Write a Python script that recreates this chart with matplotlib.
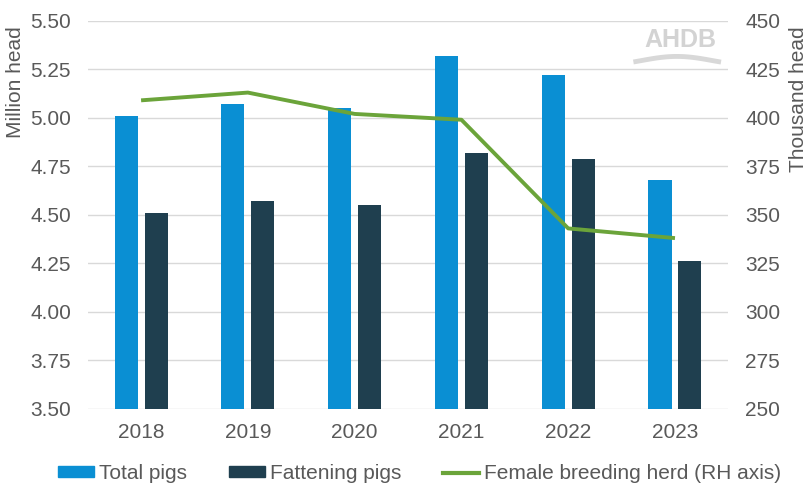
import numpy as np
import matplotlib
matplotlib.use('Agg')
import matplotlib.pyplot as plt
from matplotlib.lines import Line2D
from matplotlib.patches import Patch

plt.rcParams['font.family'] = ['Liberation Sans', 'DejaVu Sans']

########################### data
years = ['2018', '2019', '2020', '2021', '2022', '2023']
total_pigs = [5.01, 5.07, 5.05, 5.32, 5.22, 4.68]        # million head
fattening_pigs = [4.51, 4.57, 4.55, 4.82, 4.79, 4.26]    # million head
breeding_herd = [409, 413, 402, 399, 343, 338]           # thousand head (RH axis)

c_total = '#0A8FD3'
c_fat = '#1F3F4F'
c_green = '#6BA43A'
c_text = '#595959'
c_grid = '#D9D9D9'
FS = 15

########################### figure
fig = plt.figure(figsize=(8.12, 4.95), dpi=100)
ax = fig.add_axes([0.108, 0.174, 0.789, 0.784])
ax2 = ax.twinx()

x = np.arange(len(years))
w = 0.216
ax.bar(x - 0.14, total_pigs, w, color=c_total, zorder=3)
ax.bar(x + 0.14, fattening_pigs, w, color=c_fat, zorder=3)
ax2.plot(x, breeding_herd, color=c_green, lw=2.8, zorder=4, solid_capstyle='butt')

ax.set_xlim(-0.5, len(years) - 0.5)
ax.set_ylim(3.5, 5.5)
yt = np.arange(3.5, 5.51, 0.25)
ax.set_yticks(yt)
ax.set_yticklabels(['%.2f' % v for v in yt])
ax2.set_ylim(250, 450)
ax2.set_yticks(np.arange(250, 451, 25))

ax.set_xticks(x, labels=years)
ax.yaxis.grid(True, color=c_grid, lw=1, zorder=0)
ax.set_axisbelow(True)

for a in (ax, ax2):
    for s in a.spines.values():
        s.set_visible(False)
    a.tick_params(length=0, labelsize=FS, labelcolor=c_text)
ax.tick_params(axis='y', pad=12)
ax2.tick_params(axis='y', pad=12)
ax.tick_params(axis='x', pad=10)

# y labels sit near the top of the axis, as in the original
ax.set_ylabel('Million head', fontsize=FS, color=c_text)
ax2.set_ylabel('Thousand head', fontsize=FS, color=c_text, rotation=90)
for lab in (ax.yaxis.label, ax2.yaxis.label):
    lab.set_rotation_mode('anchor')
    lab.set_ha('right')
    lab.set_va('center')
ax.yaxis.set_label_coords(-0.113, 0.985)
ax2.yaxis.set_label_coords(1.11, 0.985)

# legend
handles = [Patch(color=c_total), Patch(color=c_fat), Line2D([0], [0], color=c_green, lw=3)]
labels = ['Total pigs', 'Fattening pigs', 'Female breeding herd (RH axis)']
fig.legend(handles, labels, loc='center', bbox_to_anchor=(0.517, 0.043), ncol=3,
           frameon=False, fontsize=FS, labelcolor=c_text, handlelength=1.73,
           handleheight=0.45, handletextpad=0.24, columnspacing=2.0,
           borderaxespad=0, borderpad=0)

# AHDB logo (watermark)
fig.text(0.838, 0.92, 'AHDB', fontsize=18, fontweight='bold', color='#D3D3D3',
         ha='center', va='center')
t = np.linspace(0, 1, 50)
fig.add_artist(Line2D(0.783 + 0.102 * t, 0.878 + 0.008 * np.sin(t * np.pi * 1.2 - 0.3),
                      transform=fig.transFigure, color='#D8D8D8', lw=3.5))

plt.savefig('out.png', dpi=100)
plt.close()
